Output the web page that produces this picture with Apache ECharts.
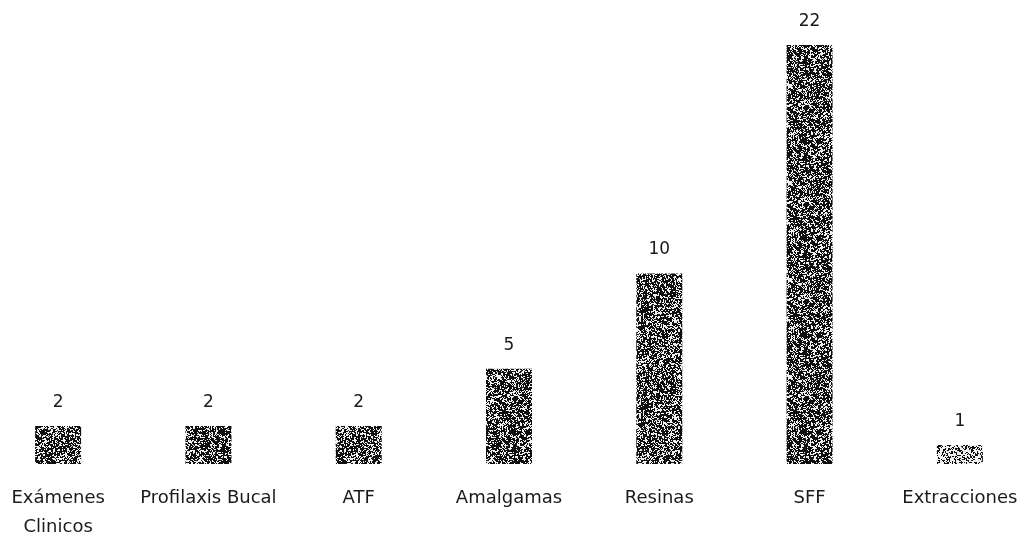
<!DOCTYPE html>
<html>
<head>
<meta charset="utf-8">
<style>
  html, body { margin: 0; padding: 0; background: #fff; overflow: hidden; }
  #wrap { width: 1024px; height: 538px; overflow: hidden; position: relative; }
  /* the plot spans slightly past both page edges so the outer columns sit close to the border */
  #chart { position: absolute; left: -17px; top: 0; width: 1052px; height: 538px; }
</style>
<script src="https://cdn.jsdelivr.net/npm/echarts@6/dist/echarts.min.js"></script>
</head>
<body>
<div id="wrap"><div id="chart"></div></div>
<script>
// Tratamientos realizados
const categories = ['Exámenes\nClinicos', 'Profilaxis Bucal', 'ATF', 'Amalgamas', 'Resinas', 'SFF', 'Extracciones'];
const values = [2, 2, 2, 5, 10, 22, 1];

// Stippled grey fill for the bars (deterministic hash noise, slightly clumped)
function stipple(size, density) {
  const c = document.createElement('canvas');
  c.width = size; c.height = size;
  const ctx = c.getContext('2d');
  const img = ctx.createImageData(size, size);
  const hash = (x, y) => {
    let h = (x * 374761393 + y * 668265263) | 0;
    h = Math.imul(h ^ (h >>> 13), 1274126177);
    h = (h ^ (h >>> 16)) >>> 0;
    return (h % 1000) / 1000;
  };
  for (let y = 0; y < size; y++) {
    for (let x = 0; x < size; x++) {
      const v = 0.6 * hash(x, y) + 0.4 * hash(x >> 1, (y >> 1) + 5000);
      const dark = v < density;
      const i = (y * size + x) * 4;
      const g = dark ? 15 : 240;
      img.data[i] = g; img.data[i + 1] = g; img.data[i + 2] = g; img.data[i + 3] = 255;
    }
  }
  ctx.putImageData(img, 0, 0);
  return c;
}

const fill = { image: stipple(97, 0.6), repeat: 'repeat' };
const fillLight = { image: stipple(97, 0.45), repeat: 'repeat' };

const textFont = '"DejaVu Sans", sans-serif';

const chart = echarts.init(document.getElementById('chart'), null, { renderer: 'canvas' });
chart.setOption({
  animation: false,
  grid: { left: 0, right: 0, top: 45, bottom: 74, outerBoundsMode: 'none', containLabel: false },
  xAxis: {
    type: 'category',
    data: categories,
    axisLine: { show: false },
    axisTick: { show: false },
    axisLabel: {
      interval: 0,
      margin: 20,
      fontFamily: textFont,
      fontSize: 18,
      lineHeight: 29,
      color: '#1a1a1a'
    }
  },
  yAxis: {
    type: 'value',
    min: 0,
    max: 22,
    show: false,
    splitLine: { show: false }
  },
  series: [{
    type: 'bar',
    data: values.map((v, i) => ({
      value: v,
      itemStyle: { color: i === values.length - 1 ? fillLight : fill }
    })),
    barWidth: 46,
    label: {
      show: true,
      position: 'top',
      distance: 15,
      fontFamily: textFont,
      fontSize: 17,
      color: '#1a1a1a'
    }
  }]
});
</script>
</body>
</html>
